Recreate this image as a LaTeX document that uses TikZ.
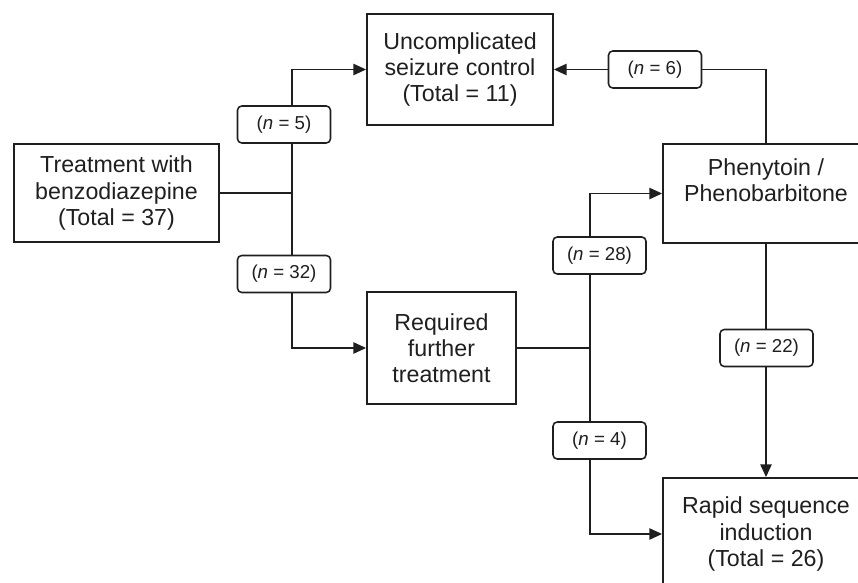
\documentclass[tikz,border=0pt]{standalone}
\usepackage{fontspec}
\setmainfont{Liberation Sans}
\usetikzlibrary{arrows.meta,backgrounds}
\colorlet{ink}{black!88}
\tikzset{
	box/.style={draw=ink,line width=1.3pt,text=ink,align=center,inner sep=0pt,
		font=\fontsize{16.5}{18.6}\selectfont},
	lbl/.style={draw=ink,line width=1.1pt,fill=white,text=ink,rounded corners=3pt,
		minimum width=93*0.025cm,minimum height=37*0.025cm,inner sep=0pt,
		font=\fontsize{13.3}{15}\selectfont},
	arr/.style={-{Triangle[length=9pt,width=8pt]}},
	link/.style={draw=ink,line width=1.1pt}
}
\begin{document}
\begin{tikzpicture}[x=0.025cm,y=-0.025cm]
			\useasboundingbox (0,0) rectangle (858,583);
			\clip (0,0) rectangle (858,583);
			% boxes
			\node[box,minimum width=205*0.025cm,minimum height=98*0.025cm] (treat) at (116.5,193) {Treatment with\\benzodiazepine\\(Total = 37)};
			\node[box,minimum width=186*0.025cm,minimum height=111*0.025cm] (unc) at (460,69.5) {Uncomplicated\\seizure control\\(Total = 11)};
			\node[box,minimum width=149*0.025cm,minimum height=112*0.025cm] (req) at (441.5,348) {Required\\further\\treatment};
			\node[box,minimum width=206*0.025cm,minimum height=99*0.025cm] (phe) at (766,193.5) {Phenytoin /\\Phenobarbitone\\~};
			\node[box,minimum width=206*0.025cm,minimum height=112*0.025cm] (rsi) at (766,534) {Rapid sequence\\induction\\(Total = 26)};
			% counts
			\node[lbl] (n5) at (284,124.5) {(\textit{n} = 5)};
			\node[lbl] (n32) at (284,274) {(\textit{n} = 32)};
			\node[lbl] (n28) at (599.5,255.5) {(\textit{n} = 28)};
			\node[lbl] (n4) at (599.5,440.5) {(\textit{n} = 4)};
			\node[lbl] (n6) at (655,69.5) {(\textit{n} = 6)};
			\node[lbl] (n22) at (766.5,348) {(\textit{n} = 22)};
			\coordinate (j1) at (292,193);
			\coordinate (j2) at (590,348);
			\begin{pgfonlayer}{background}
			\draw[link] (treat.east) -- (j1) (req.east) -- (j2);
			\draw[link,arr] (j1) |- (unc.west);
			\draw[link,arr] (j1) |- (req.west);
			\draw[link,arr] (j2) |- (phe.west);
			\draw[link,arr] (j2) |- (rsi.west);
			\draw[link,arr] (phe.north) |- (unc.east);
			\draw[link,arr] (phe.south) -- (rsi.north);
			\end{pgfonlayer}
	\end{tikzpicture}
\end{document}
